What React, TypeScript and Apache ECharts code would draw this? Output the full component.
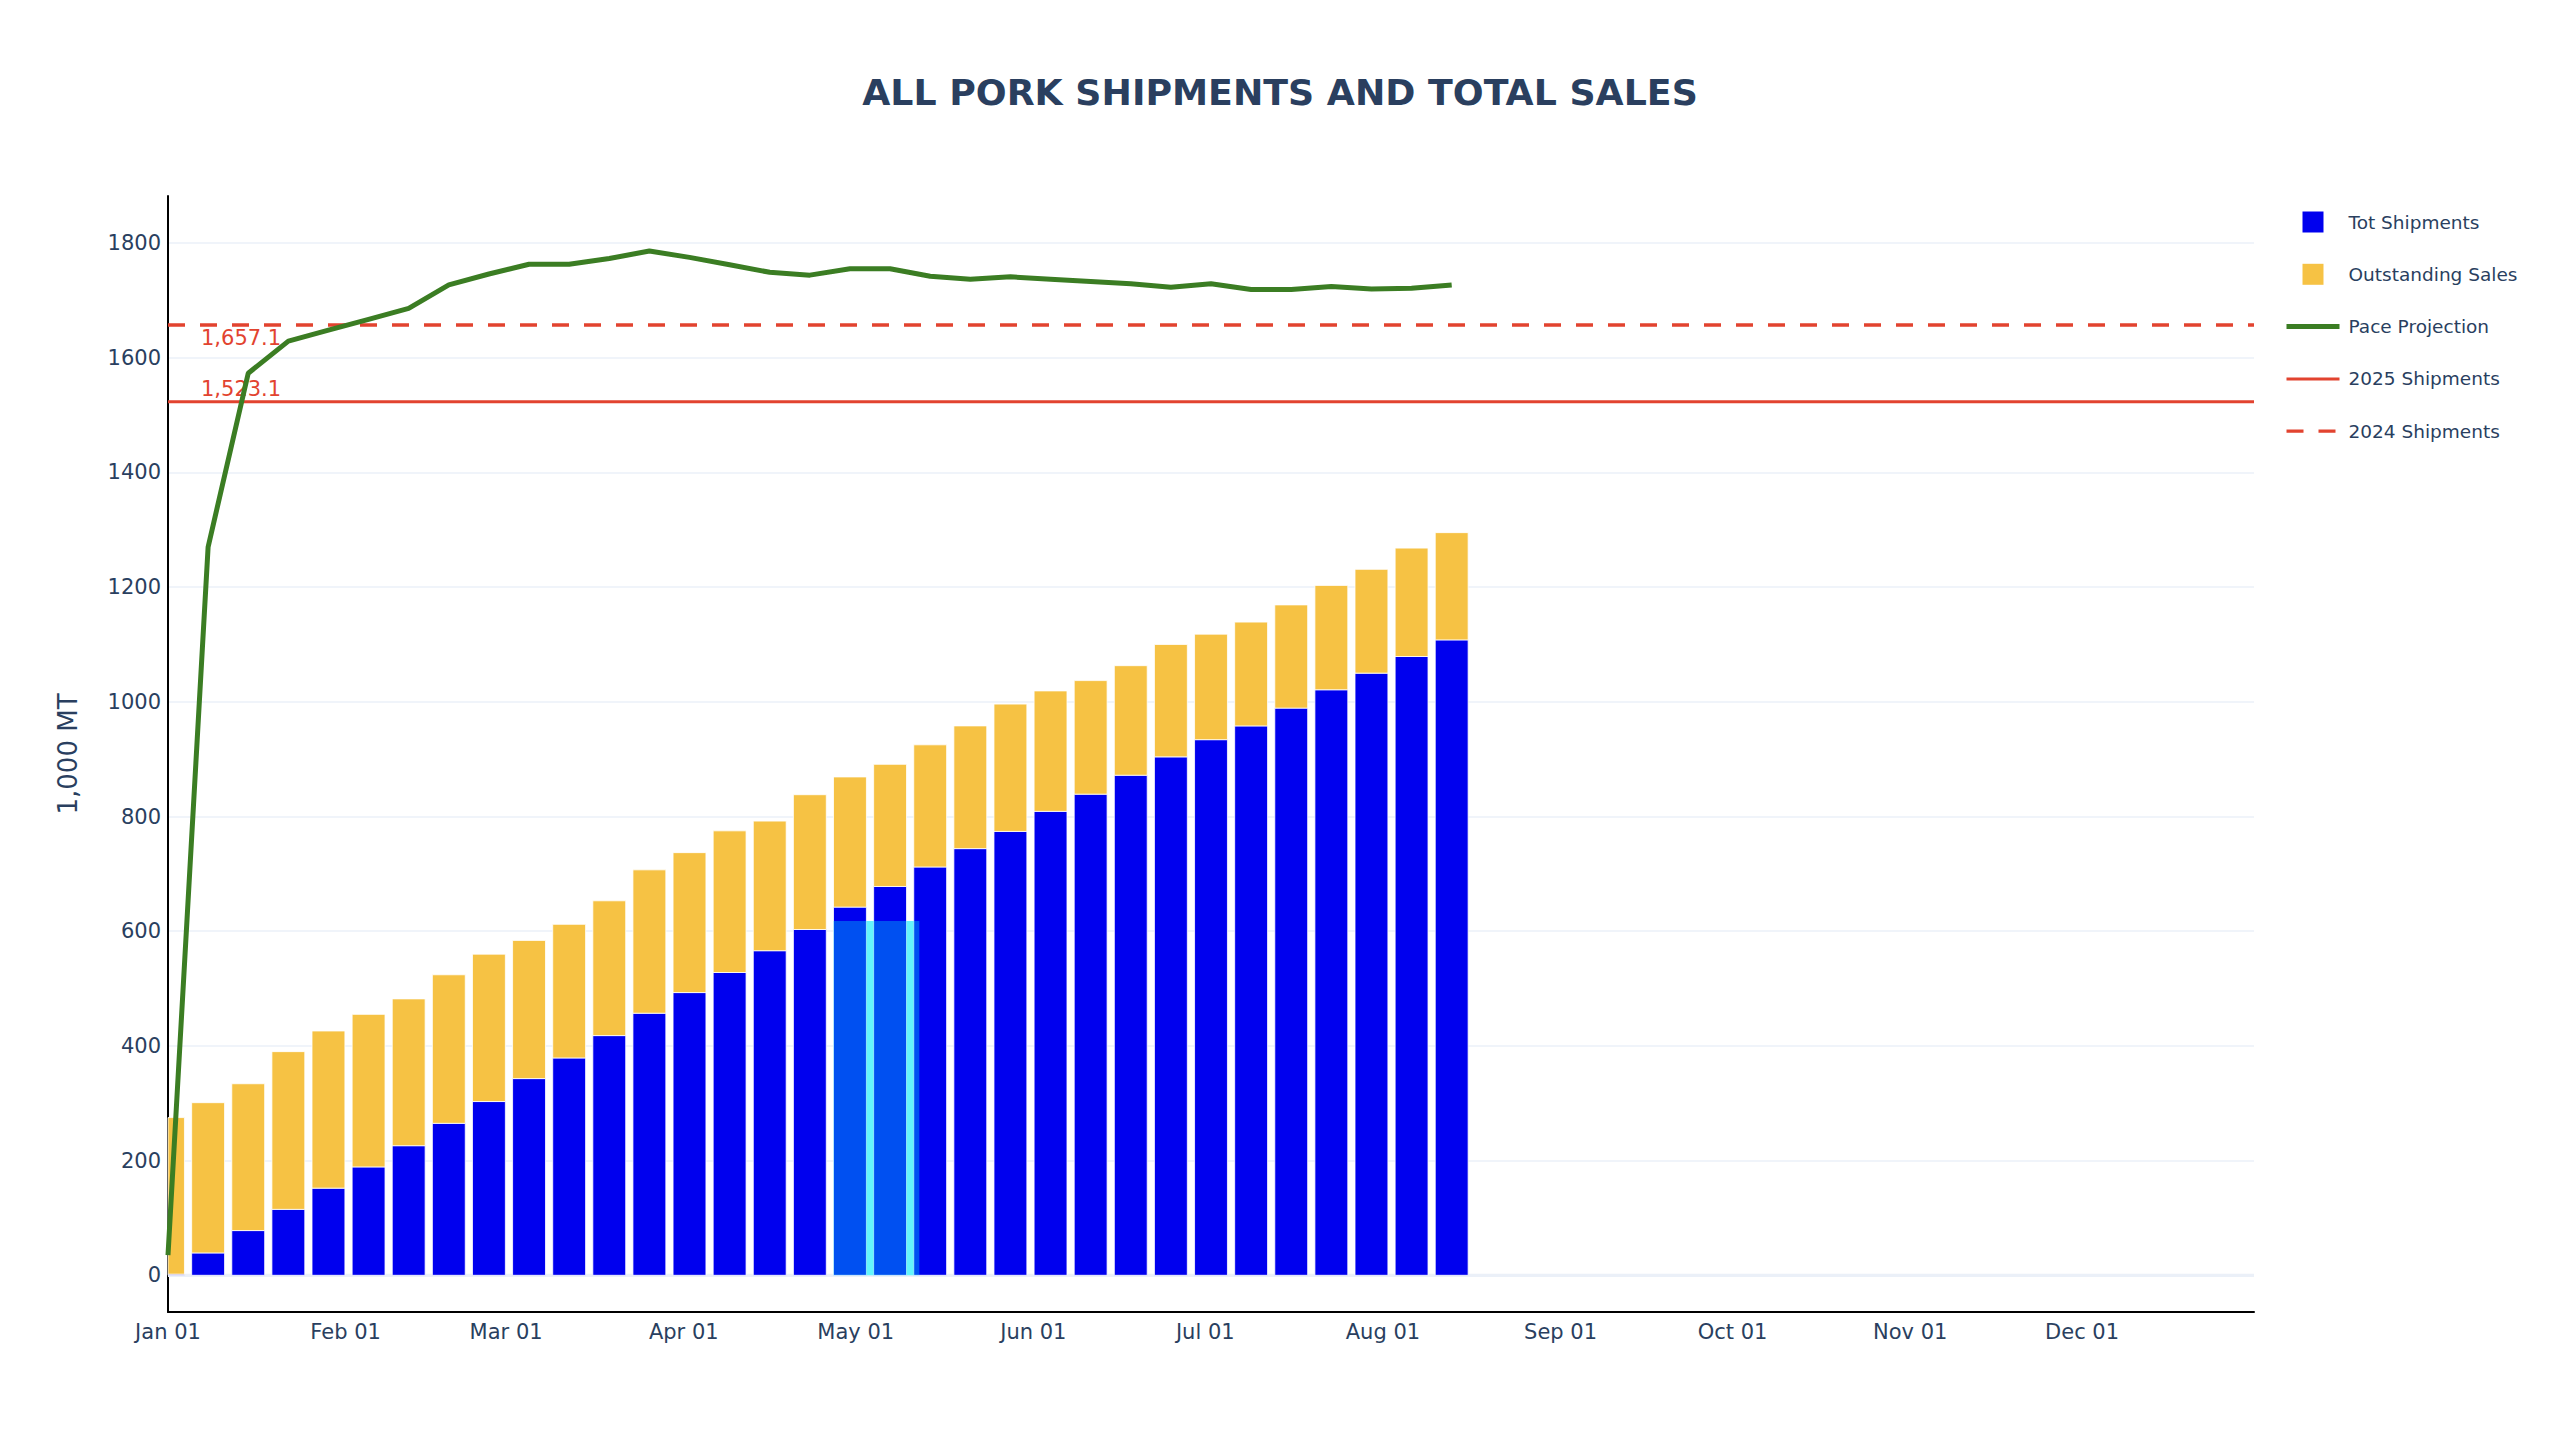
import React, { useEffect, useRef } from 'react';
import * as echarts from 'echarts';

// ---- data ----
const weekDates = [
  '2025-01-01', '2025-01-08', '2025-01-15', '2025-01-22', '2025-01-29',
  '2025-02-05', '2025-02-12', '2025-02-19', '2025-02-26',
  '2025-03-05', '2025-03-12', '2025-03-19', '2025-03-26',
  '2025-04-02', '2025-04-09', '2025-04-16', '2025-04-23', '2025-04-30',
  '2025-05-07', '2025-05-14', '2025-05-21', '2025-05-28',
  '2025-06-04', '2025-06-11', '2025-06-18', '2025-06-25',
  '2025-07-02', '2025-07-09', '2025-07-16', '2025-07-23', '2025-07-30',
  '2025-08-06', '2025-08-13',
];

const totShipments = [
  2, 39, 78, 115, 152, 189, 226, 265, 303, 343, 379, 418, 457, 493, 528, 566, 603,
  642, 678, 712, 744, 774, 809, 839, 872, 904, 934, 958, 989, 1021, 1050, 1079, 1108,
];

const outstandingSales = [
  273, 262, 256, 275, 274, 266, 256, 259, 257, 241, 233, 235, 250, 244, 247, 226, 235,
  227, 213, 213, 214, 222, 210, 198, 191, 196, 184, 181, 180, 182, 181, 189, 187,
];

const paceProjection = [
  35, 1270, 1573, 1629, 1648, 1667, 1686, 1727, 1746, 1763, 1763, 1773, 1786, 1775, 1762, 1749, 1744,
  1755, 1755, 1742, 1737, 1741, 1737, 1733, 1729, 1723, 1729, 1719, 1719, 1724, 1720, 1721, 1727,
];

const shipments2025 = 1523.1;
const shipments2024 = 1657.1;
const shipments2025Label = '1,523.1';
const shipments2024Label = '1,657.1';

const xStart = '2025-01-01';
const xEnd = '2025-12-31';

const xTickDates = [
  '2025-01-01', '2025-02-01', '2025-03-01', '2025-04-01', '2025-05-01', '2025-06-01',
  '2025-07-01', '2025-08-01', '2025-09-01', '2025-10-01', '2025-11-01', '2025-12-01',
];
const xTickLabels = [
  'Jan 01', 'Feb 01', 'Mar 01', 'Apr 01', 'May 01', 'Jun 01',
  'Jul 01', 'Aug 01', 'Sep 01', 'Oct 01', 'Nov 01', 'Dec 01',
];

const yTicks = [0, 200, 400, 600, 800, 1000, 1200, 1400, 1600, 1800];
const yMin = -64;
const yMax = 1882;

// highlighted selection box [start, end, yLow, yHigh]
const highlightBox = ['2025-04-27 02:50', '2025-05-12 02:30', 0, 618];

const seriesNames = ['Tot Shipments', 'Outstanding Sales', 'Pace Projection', '2025 Shipments', '2024 Shipments'];

// ---- helpers ----
function toTs(s: string): number {
  const [d, t] = s.split(' ');
  const [y, m, day] = d.split('-').map(Number);
  let hh = 0, mm = 0;
  if (t) {
    const p = t.split(':').map(Number);
    hh = p[0];
    mm = p[1] || 0;
  }
  return Date.UTC(y, m - 1, day, hh, mm);
}

const DAY_MS = 86400000;
const BAR_PERIOD_DAYS = 7;
const BAR_FRACTION = 0.82;

const FONT = "'DejaVu Sans', Verdana, sans-serif";
const TEXT = '#2a3f5f';
const RED = '#e2432f';
const GREEN = '#3b7d23';
const BLUE = '#0000ee';
const GOLD = '#f6c244';
const SQUARE = 'path://M0,0L10,0L10,10L0,10Z';
const DASH = [17, 15];

export default function App() {
  const ref = useRef<HTMLDivElement>(null);

  useEffect(() => {
    document.body.style.margin = '0';
    if (!ref.current) return;
    const chart = echarts.init(ref.current, null, { renderer: 'svg' });

    const weekTs = weekDates.map(toTs);
    const tickTs = xTickDates.map(toTs);
    const labelByTs: Record<string, string> = {};
    tickTs.forEach((t, i) => (labelByTs[String(t)] = xTickLabels[i]));
    const xMinTs = toTs(xStart);
    const xMaxTs = toTs(xEnd);

    const boxData = [[toTs(highlightBox[0] as string), toTs(highlightBox[1] as string), highlightBox[2], highlightBox[3]]];

    const rectRender = (fill: string) => (params: any, api: any) => {
      const p0 = api.coord([api.value(0), api.value(3)]);
      const p1 = api.coord([api.value(1), api.value(2)]);
      return {
        type: 'rect',
        shape: { x: p0[0], y: p0[1], width: p1[0] - p0[0], height: p1[1] - p0[1] },
        style: { fill },
      };
    };

    // stacked bar segment from value(1) to value(1)+value(2), clipped to the grid
    const barRender = (fill: string) => (params: any, api: any) => {
      const x = api.value(0);
      const lo = api.value(1);
      const hi = lo + api.value(2);
      const pTop = api.coord([x, hi]);
      const pBase = api.coord([x, lo]);
      const w = api.size([BAR_PERIOD_DAYS * DAY_MS * BAR_FRACTION, 0])[0];
      const cs = params.coordSys;
      const shape = echarts.graphic.clipRectByRect(
        { x: pTop[0] - w / 2, y: pTop[1], width: w, height: pBase[1] - pTop[1] },
        { x: cs.x, y: cs.y, width: cs.width, height: cs.height }
      );
      if (!shape) return null;
      return {
        type: 'rect',
        shape,
        style: { fill, stroke: '#ffffff', lineWidth: 0.8 },
      };
    };

    const refLabel = (text: string, position: string) => ({
      show: true,
      position,
      align: 'left',
      distance: 2,
      offset: [33, 0],
      formatter: text,
      fontFamily: FONT,
      fontSize: 21,
      color: RED,
    });

    const option: any = {
      animation: false,
      backgroundColor: '#ffffff',
      textStyle: { fontFamily: FONT },
      title: {
        text: 'ALL PORK SHIPMENTS AND TOTAL SALES',
        left: 'center',
        top: 67,
        textStyle: { fontFamily: FONT, fontSize: 36.3, fontWeight: 'bold', color: TEXT, lineHeight: 40 },
      },
      legend: {
        orient: 'vertical',
        left: 2284,
        top: 211.5,
        padding: 0,
        itemWidth: 53,
        itemHeight: 21,
        itemGap: 31.3,
        symbolKeepAspect: true,
        textStyle: { fontFamily: FONT, fontSize: 18.5, color: TEXT, lineHeight: 21, padding: [0, 0, 0, 4] },
        data: [
          { name: seriesNames[0], icon: SQUARE, itemStyle: { color: BLUE } },
          { name: seriesNames[1], icon: SQUARE, itemStyle: { color: GOLD } },
          { name: seriesNames[2], itemStyle: { opacity: 0 }, lineStyle: { width: 5, color: GREEN } },
          { name: seriesNames[3], itemStyle: { opacity: 0 }, lineStyle: { width: 3, color: RED } },
          { name: seriesNames[4], itemStyle: { opacity: 0 }, lineStyle: { width: 3.3, color: RED, type: DASH } },
        ],
      },
      grid: { left: 168, right: 306, top: 196, bottom: 132, containLabel: false },
      xAxis: {
        type: 'value',
        min: xMinTs,
        max: xMaxTs,
        axisLine: { show: true, onZero: false, lineStyle: { color: '#000', width: 2 } },
        axisTick: { show: false, customValues: tickTs },
        splitLine: { show: false },
        axisLabel: {
          customValues: tickTs,
          fontSize: 21,
          color: TEXT,
          margin: 9,
          formatter: (v: number) => labelByTs[String(v)] ?? '',
        },
      },
      yAxis: {
        type: 'value',
        min: yMin,
        max: yMax,
        name: '1,000 MT',
        nameLocation: 'middle',
        nameGap: 87,
        nameTextStyle: { fontFamily: FONT, fontSize: 26, color: TEXT },
        axisLine: { show: true, lineStyle: { color: '#000', width: 2 } },
        axisTick: { show: false, customValues: yTicks },
        axisLabel: {
          customValues: yTicks,
          fontSize: 21,
          color: TEXT,
          margin: 7,
          formatter: (v: number) => String(v),
        },
        splitLine: { show: true, lineStyle: { color: '#ebf0f8', width: 1.7 } },
      },
      series: [
        {
          type: 'custom',
          silent: true,
          z: 1,
          clip: true,
          encode: { x: [0, 1], y: [2, 3] },
          data: [[xMinTs, xMaxTs, 0, 0]],
          renderItem: (params: any, api: any) => {
            const p0 = api.coord([api.value(0), 0]);
            const p1 = api.coord([api.value(1), 0]);
            return {
              type: 'line',
              shape: { x1: p0[0], y1: p0[1], x2: p1[0], y2: p1[1] },
              style: { stroke: '#ebf0f8', lineWidth: 3.3 },
            };
          },
        },
        {
          type: 'custom',
          silent: true,
          z: 1,
          clip: true,
          encode: { x: [0, 1], y: [2, 3] },
          data: boxData,
          renderItem: rectRender('#9afdff'),
        },
        {
          name: seriesNames[0],
          type: 'custom',
          z: 2,
          itemStyle: { color: BLUE },
          encode: { x: 0, y: [1, 2] },
          data: weekTs.map((t, i) => [t, 0, totShipments[i]]),
          renderItem: barRender(BLUE),
        },
        {
          name: seriesNames[1],
          type: 'custom',
          z: 2,
          itemStyle: { color: GOLD },
          encode: { x: 0, y: [1, 2] },
          data: weekTs.map((t, i) => [t, totShipments[i], outstandingSales[i]]),
          renderItem: barRender(GOLD),
        },
        {
          type: 'custom',
          silent: true,
          z: 3,
          clip: true,
          encode: { x: [0, 1], y: [2, 3] },
          data: boxData,
          renderItem: rectRender('rgba(0,230,245,0.35)'),
        },
        {
          name: seriesNames[3],
          type: 'line',
          z: 4,
          clip: true,
          symbol: 'circle',
          symbolSize: 0.1,
          showSymbol: true,
          lineStyle: { color: RED, width: 3 },
          itemStyle: { color: RED },
          data: [
            { value: [xMinTs, shipments2025], label: refLabel(shipments2025Label, 'top') },
            [xMaxTs, shipments2025],
          ],
        },
        {
          name: seriesNames[4],
          type: 'line',
          z: 4,
          clip: true,
          symbol: 'circle',
          symbolSize: 0.1,
          showSymbol: true,
          lineStyle: { color: RED, width: 3.3, type: DASH },
          itemStyle: { color: RED },
          data: [
            { value: [xMinTs, shipments2024], label: refLabel(shipments2024Label, 'bottom') },
            [xMaxTs, shipments2024],
          ],
        },
        {
          name: seriesNames[2],
          type: 'line',
          z: 5,
          symbol: 'none',
          showSymbol: false,
          lineStyle: { color: GREEN, width: 5 },
          itemStyle: { color: GREEN },
          data: weekTs.map((t, i) => [t, paceProjection[i]]),
        },
      ],
    };

    chart.setOption(option);
    return () => chart.dispose();
  }, []);

  return <div ref={ref} style={{ width: 2560, height: 1444 }} />;
}
